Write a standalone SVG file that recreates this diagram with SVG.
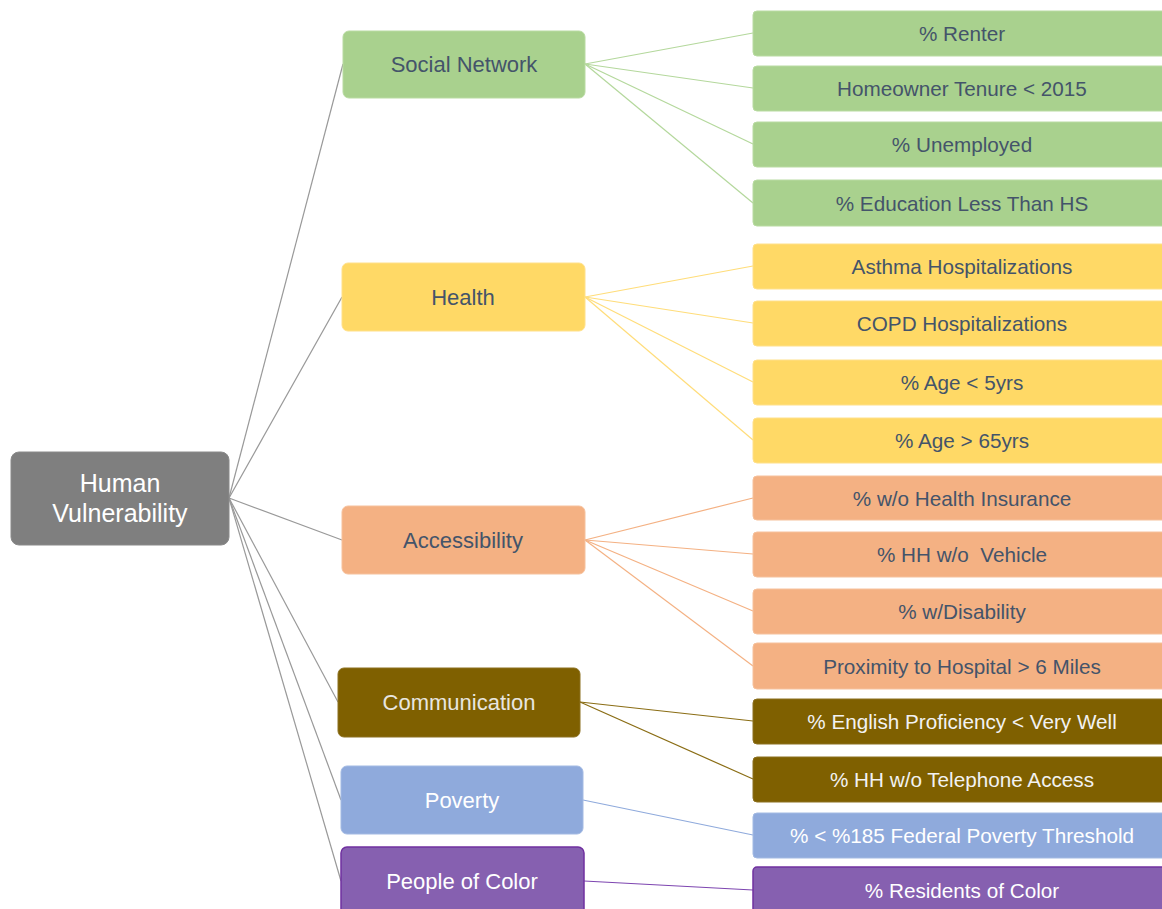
<svg xmlns="http://www.w3.org/2000/svg" width="1162" height="909" viewBox="0 0 1162 909">
<style>
text{font-family:"Liberation Sans",Arial,sans-serif;text-anchor:middle}
.mid text{font-size:22px}
.leaf text{font-size:20.7px}
.dk{fill:#44546a}
.lt{fill:#ffffff}
.root{fill:#7f7f7f;stroke:#8a8a8a;stroke-width:1}
.sn{fill:#a9d18e;stroke:#b9dba2;stroke-width:1}
.he{fill:#ffd966;stroke:#ffe08a;stroke-width:1}
.ac{fill:#f4b183;stroke:#f6c19c;stroke-width:1}
.co{fill:#7f6000;stroke:#8c7020;stroke-width:1}
.po{fill:#8faadc;stroke:#a3bae3;stroke-width:1}
.pc{fill:#8660b0;stroke:#7030a0;stroke-width:1.5}
#connectors line{stroke-width:1.2;fill:none}
.g{stroke:#999999}
.cs{stroke:#b4d89c}
.ch{stroke:#ffdd7a}
.ca{stroke:#f4b183}
.cc{stroke:#8a6d14}
.cp{stroke:#8faadc}
.cv{stroke:#7d45b0}
</style>
<rect width="1162" height="909" fill="#ffffff"/>
<g id="connectors">
<line class="g" x1="229" y1="498" x2="343" y2="64"/>
<line class="g" x1="229" y1="498" x2="342" y2="297"/>
<line class="g" x1="229" y1="498" x2="342" y2="540"/>
<line class="g" x1="229" y1="498" x2="338" y2="702"/>
<line class="g" x1="229" y1="498" x2="341" y2="800"/>
<line class="g" x1="229" y1="498" x2="341" y2="881"/>
<line class="cs" x1="585" y1="64" x2="753" y2="33"/>
<line class="cs" x1="585" y1="64" x2="753" y2="88"/>
<line class="cs" x1="585" y1="64" x2="753" y2="144"/>
<line class="cs" x1="585" y1="64" x2="753" y2="203"/>
<line class="ch" x1="585" y1="297" x2="753" y2="266"/>
<line class="ch" x1="585" y1="297" x2="753" y2="323"/>
<line class="ch" x1="585" y1="297" x2="753" y2="382"/>
<line class="ch" x1="585" y1="297" x2="753" y2="440"/>
<line class="ca" x1="585" y1="540" x2="753" y2="498"/>
<line class="ca" x1="585" y1="540" x2="753" y2="554"/>
<line class="ca" x1="585" y1="540" x2="753" y2="611"/>
<line class="ca" x1="585" y1="540" x2="753" y2="666"/>
<line class="cc" x1="580" y1="702" x2="753" y2="721"/>
<line class="cc" x1="580" y1="702" x2="753" y2="779"/>
<line class="cp" x1="583" y1="800" x2="753" y2="835"/>
<line class="cv" x1="584" y1="881" x2="753" y2="890"/>
</g>
<g id="root">
<rect class="root" x="11" y="452" width="218" height="93" rx="8"/>
<text x="120" y="492" font-size="25" fill="#ffffff">Human</text>
<text x="120" y="522" font-size="25" fill="#ffffff">Vulnerability</text>
</g>
<g id="social-network" class="mid">
<rect class="sn" x="343" y="31" width="242" height="67" rx="6"/>
<text class="dk" x="464" y="72">Social Network</text>
</g>
<g id="health" class="mid">
<rect class="he" x="342" y="263" width="243" height="68" rx="6"/>
<text class="dk" x="463" y="304.5">Health</text>
</g>
<g id="accessibility" class="mid">
<rect class="ac" x="342" y="506" width="243" height="68" rx="6"/>
<text class="dk" x="463" y="547.5">Accessibility</text>
</g>
<g id="communication" class="mid">
<rect class="co" x="338" y="668" width="242" height="69" rx="6"/>
<text x="459" y="710" fill="#e8e6e0">Communication</text>
</g>
<g id="poverty" class="mid">
<rect class="po" x="341" y="766" width="242" height="68" rx="6"/>
<text class="lt" x="462" y="807.5">Poverty</text>
</g>
<g id="people-of-color" class="mid">
<rect class="pc" x="341" y="847" width="243" height="68" rx="6"/>
<text class="lt" x="462" y="888.5">People of Color</text>
</g>
<g id="renter" class="leaf"><rect class="sn" x="753" y="11" width="418" height="45" rx="4"/><text class="dk" x="962" y="40.5">% Renter</text></g>
<g id="homeowner" class="leaf"><rect class="sn" x="753" y="66" width="418" height="45" rx="4"/><text class="dk" x="962" y="95.5">Homeowner Tenure &lt; 2015</text></g>
<g id="unemployed" class="leaf"><rect class="sn" x="753" y="122" width="418" height="45" rx="4"/><text class="dk" x="962" y="151.5">% Unemployed</text></g>
<g id="education" class="leaf"><rect class="sn" x="753" y="180" width="418" height="46" rx="4"/><text class="dk" x="962" y="210.5">% Education Less Than HS</text></g>
<g id="asthma" class="leaf"><rect class="he" x="753" y="244" width="418" height="45" rx="4"/><text class="dk" x="962" y="273.5">Asthma Hospitalizations</text></g>
<g id="copd" class="leaf"><rect class="he" x="753" y="301" width="418" height="45" rx="4"/><text class="dk" x="962" y="330.5">COPD Hospitalizations</text></g>
<g id="age-under-5" class="leaf"><rect class="he" x="753" y="360" width="418" height="45" rx="4"/><text class="dk" x="962" y="389.5">% Age &lt; 5yrs</text></g>
<g id="age-over-65" class="leaf"><rect class="he" x="753" y="418" width="418" height="45" rx="4"/><text class="dk" x="962" y="447.5">% Age &gt; 65yrs</text></g>
<g id="health-insurance" class="leaf"><rect class="ac" x="753" y="476" width="418" height="44" rx="4"/><text class="dk" x="962" y="505.5">% w/o Health Insurance</text></g>
<g id="vehicle" class="leaf"><rect class="ac" x="753" y="532" width="418" height="45" rx="4"/><text class="dk" x="962" y="561.5" xml:space="preserve">% HH w/o  Vehicle</text></g>
<g id="disability" class="leaf"><rect class="ac" x="753" y="589" width="418" height="45" rx="4"/><text class="dk" x="962" y="618.5">% w/Disability</text></g>
<g id="proximity" class="leaf"><rect class="ac" x="753" y="643" width="418" height="46" rx="4"/><text class="dk" x="962" y="673.5">Proximity to Hospital &gt; 6 Miles</text></g>
<g id="english" class="leaf"><rect class="co" x="753" y="699" width="418" height="45" rx="4"/><text x="962" y="728.5" fill="#f2f2f2">% English Proficiency &lt; Very Well</text></g>
<g id="telephone" class="leaf"><rect class="co" x="753" y="757" width="418" height="45" rx="4"/><text x="962" y="786.5" fill="#f2f2f2">% HH w/o Telephone Access</text></g>
<g id="poverty-threshold" class="leaf"><rect class="po" x="753" y="813" width="418" height="45" rx="4"/><text class="lt" x="962" y="842.5">% &lt; %185 Federal Poverty Threshold</text></g>
<g id="residents-of-color" class="leaf"><rect class="pc" x="753" y="867" width="418" height="46" rx="4"/><text class="lt" x="962" y="897.5">% Residents of Color</text></g>
</svg>
